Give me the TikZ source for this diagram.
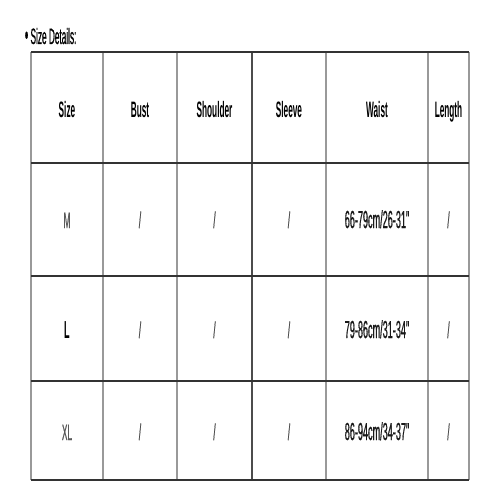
\documentclass[tikz,border=0pt]{standalone}
\usepackage{fontspec}
\setmainfont[FakeStretch=0.37]{Liberation Sans}
\newfontfamily\heavyfont[FakeStretch=0.37,FakeBold=0.6]{Liberation Sans}

\begin{document}
\begin{tikzpicture}[x=0.02cm,y=-0.02cm,
	rowline/.style={draw=black!80,line width=1.1pt},
	colline/.style={draw=black!40,line width=0.6pt},
	head/.style={anchor=base,inner sep=0pt,font=\bfseries\fontsize{12.7}{14}\selectfont},
	sizename/.style={anchor=base,inner sep=0pt,text=black!65,font=\heavyfont\fontsize{12.7}{14}\selectfont},
	waist/.style={anchor=base,inner sep=0pt,text=black!90,font=\heavyfont\fontsize{14}{16}\selectfont},
	blank/.style={anchor=base,inner sep=0pt,text=black!70,font=\heavyfont\fontsize{13}{15}\selectfont}]
	\useasboundingbox (0,0) rectangle (500,500);

	% Title above the table
	\node (title) at (24.5,44) [anchor=base west,inner sep=0pt,font=\heavyfont\fontsize{12.7}{14}\selectfont] {{\fontsize{15}{15}\selectfont•} Size Details:};

	% Draw the grid of the table
	\draw [colline] (31,52) -- (31,480);
	\draw [colline] (103,52) -- (103,480);
	\draw [colline] (177,52) -- (177,480);
	\draw [colline,draw=black!70,line width=0.9pt] (252,52) -- (252,480);
	\draw [colline] (326,52) -- (326,480);
	\draw [colline] (428,52) -- (428,480);
	\draw [colline] (469,52) -- (469,480);
	\draw [rowline] (31,52) -- (469,52);
	\draw [rowline] (31,163) -- (469,163);
	\draw [rowline] (31,276) -- (469,276);
	\draw [rowline] (31,381) -- (469,381);
	\draw [rowline] (31,480) -- (469,480);

	% Then add the header row
	\node (hsize) at (67,117) [head] {Size};
	\node (hbust) at (140,117) [head] {Bust};
	\node (hshoulder) at (214.5,117) [head] {Shoulder};
	\node (hsleeve) at (289,117) [head] {Sleeve};
	\node (hwaist) at (377,117) [head] {Waist};
	\node (hlength) at (448.5,117) [head] {Length};

	% Now add the rows M, L and XL
	\node (sizem) at (67,228) [sizename] {M};
	\node (bustm) at (140,228) [blank] {/};
	\node (shoulderm) at (214.5,228) [blank] {/};
	\node (sleevem) at (289,228) [blank] {/};
	\node (waistm) at (377,228) [waist] {66-79cm/26-31"};
	\node (lengthm) at (448.5,228) [blank] {/};

	\node (sizel) at (67,338) [sizename,text=black,font=\bfseries\fontsize{14}{16}\selectfont] {L};
	\node (bustl) at (140,338) [blank] {/};
	\node (shoulderl) at (214.5,338) [blank] {/};
	\node (sleevel) at (289,338) [blank] {/};
	\node (waistl) at (377,338) [waist] {79-86cm/31-34"};
	\node (lengthl) at (448.5,338) [blank] {/};

	\node (sizexl) at (67,440) [sizename] {XL};
	\node (bustxl) at (140,440) [blank] {/};
	\node (shoulderxl) at (214.5,440) [blank] {/};
	\node (sleevexl) at (289,440) [blank] {/};
	\node (waistxl) at (377,440) [waist] {86-94cm/34-37"};
	\node (lengthxl) at (448.5,440) [blank] {/};
\end{tikzpicture}
\end{document}
